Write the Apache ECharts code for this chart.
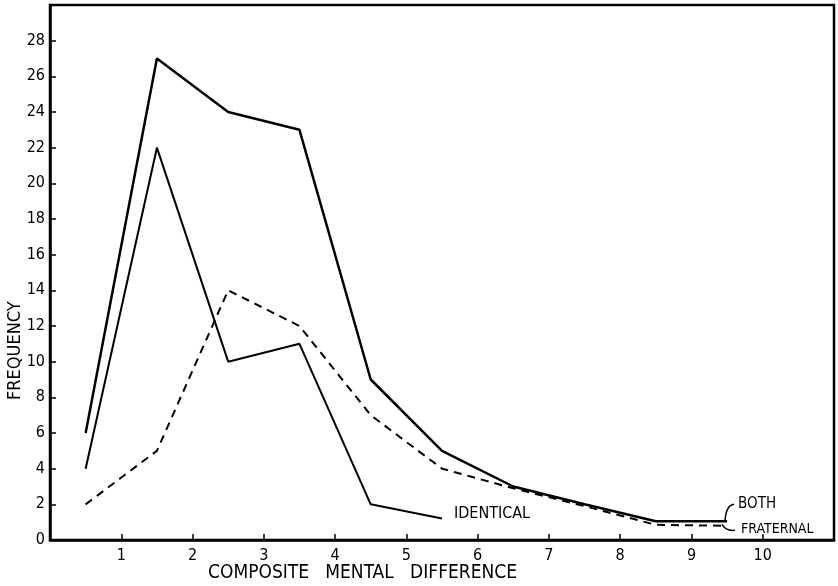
<!DOCTYPE html>
<html><head><meta charset="utf-8">
<script src="https://cdn.jsdelivr.net/npm/echarts@6/dist/echarts.min.js"></script>
<style>html,body{margin:0;padding:0;background:#fff}#c{width:838px;height:586px}</style>
</head><body><div id="c"></div>
<script>
var xPositions = [0.5, 1.5, 2.5, 3.5, 4.5, 5.5, 6.5, 7.5, 8.5, 9.5];
var bothValues = [6, 27, 24, 23, 9, 5, 3, 2, 1.05, 1.05];
var identicalValues = [4, 22, 10, 11, 2, 1.2];
var fraternalValues = [2, 5, 14, 12, 7, 4, 2.9, 1.9, 0.85, 0.8];
var xTickLabels = [1, 2, 3, 4, 5, 6, 7, 8, 9, 10];
var yTickLabels = [0, 2, 4, 6, 8, 10, 12, 14, 16, 18, 20, 22, 24, 26, 28];

function pairs(vals){ return vals.map(function(v,i){ return [xPositions[i], v]; }); }
var font = 'DejaVu Sans Condensed';
var chart = echarts.init(document.getElementById('c'));
chart.setOption({
  animation:false,
  backgroundColor:'#fff',
  grid:{left:50, top:5, right:4, bottom:46, show:true, borderColor:'#000', borderWidth:2.5},
  xAxis:{type:'value', min:0, max:11, interval:1,
    axisLine:{lineStyle:{color:'#000', width:2.5}},
    axisTick:{inside:true, length:6, lineStyle:{color:'#000', width:1.5}, customValues:xTickLabels},
    axisLabel:{customValues:xTickLabels, color:'#000', fontFamily:font, fontSize:16, margin:8},
    splitLine:{show:false}},
  yAxis:{type:'value', min:0, max:30, interval:2,
    axisLine:{show:true, lineStyle:{color:'#000', width:2.5}},
    axisTick:{show:true, inside:true, length:6, lineStyle:{color:'#000', width:1.5}, customValues:yTickLabels},
    axisLabel:{customValues:yTickLabels, color:'#000', fontFamily:font, fontSize:16, margin:5},
    splitLine:{show:false}},
  series:[
    {name:'Both', type:'line', data:pairs(bothValues), symbol:'none',
     lineStyle:{color:'#000', width:2.5},
     endLabel:{show:true, formatter:'BOTH', offset:[3,-17], color:'#000', fontFamily:font, fontSize:15}},
    {name:'Identical', type:'line', data:pairs(identicalValues), symbol:'none',
     lineStyle:{color:'#000', width:2},
     endLabel:{show:true, formatter:'IDENTICAL', offset:[4,-5], color:'#000', fontFamily:font, fontSize:16}},
    {name:'Fraternal', type:'line', data:pairs(fraternalValues), symbol:'none',
     lineStyle:{color:'#000', width:2, type:[8,6]},
     endLabel:{show:true, formatter:'FRATERNAL', offset:[6,4], color:'#000', fontFamily:font, fontSize:14}}
  ]
});
var pB = chart.convertToPixel({gridIndex:0}, [xPositions[9], bothValues[9]]);
chart.setOption({graphic:[
  {type:'text', left:208, top:564, style:{text:'COMPOSITE   MENTAL   DIFFERENCE', fill:'#000', fontSize:19, fontFamily:font}},
  {type:'text', x:6, y:400, rotation:Math.PI/2, style:{text:'FREQUENCY', fill:'#000', fontSize:18, fontFamily:font}},
  {type:'bezierCurve', shape:{x1:pB[0]-2, y1:pB[1]-1, cpx1:pB[0]-1, cpy1:pB[1]-16, x2:pB[0]+7, y2:pB[1]-17}, style:{stroke:'#000', lineWidth:1.5, fill:null}},
  {type:'bezierCurve', shape:{x1:pB[0]-5, y1:pB[1]+3, cpx1:pB[0]-2, cpy1:pB[1]+10, x2:pB[0]+8, y2:pB[1]+9}, style:{stroke:'#000', lineWidth:1.5, fill:null}}
]});
</script></body></html>
